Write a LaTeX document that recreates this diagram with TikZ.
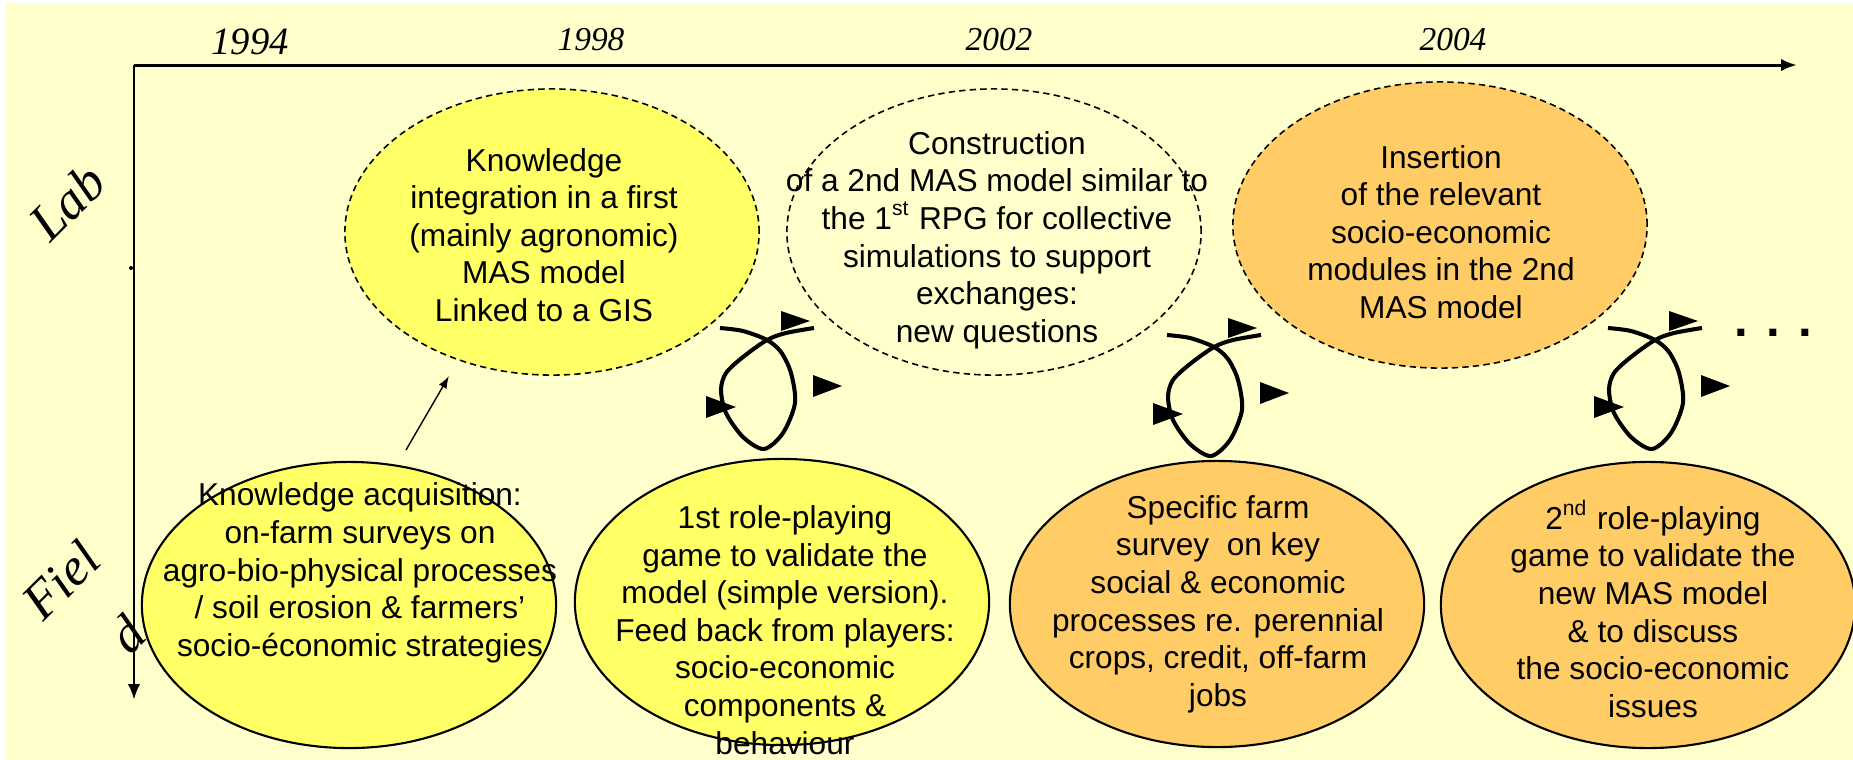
\documentclass[tikz,border=0pt]{standalone}
\usepackage{fontspec}
\setmainfont{Liberation Serif}
\setsansfont{Liberation Sans}
\usepackage{tikz}
\usetikzlibrary{shapes.geometric,arrows.meta,calc}

\definecolor{bgyellow}{RGB}{255,255,204}
\definecolor{stageyellow}{RGB}{255,255,102}
\definecolor{stageorange}{RGB}{255,204,102}

\begin{document}
\begin{tikzpicture}[x=0.01cm, y=-0.01cm,
    stage/.style={ellipse, draw, minimum width=4.14cm, minimum height=2.86cm, inner sep=0pt},
    lab/.style={stage, line width=0.45pt, dash pattern=on 1.8pt off 1.2pt},
    field/.style={stage, line width=0.6pt},
    txt/.style={align=center, inner sep=0pt, font=\sffamily\fontsize{9}{10.7}\selectfont},
    year/.style={font=\itshape\fontsize{9.5}{11}\selectfont},
    place/.style={rotate=45, inner sep=0pt, font=\itshape\fontsize{15}{18}\selectfont},
    axis/.style={line width=0.85pt, -{Latex[length=4.5pt,width=3.5pt]}},
    loopline/.style={line width=1.15pt, line join=round},
  ]
    \useasboundingbox (0,0) rectangle (1853,760);
    \fill[bgyellow] (6,3) rectangle (1853,760);

    \coordinate (o) at (134,65);
    \coordinate (tend) at (1797,65);
    \coordinate (pend) at (134,700);

    \node[year, font=\itshape\fontsize{11}{13}\selectfont] (y1) at ($(o)+(116,-23)$) {1994};
    \node[year] (y2) at ($(o)+(457,-25)$) {1998};
    \node[year] (y3) at ($(o)+(865,-25)$) {2002};
    \node[year] (y4) at ($(o)+(1319,-25)$) {2004};

    \node[place] (plab) at (67,202) {Lab};
    \node[place] (pfld) at (61,580) {Fiel};
    \node[place] (pfd) at (127,634) {d};
    \fill (131,268) circle (2);

    \node[lab, fill=stageyellow] (l1) at (552,232) {};
    \node[lab] (l2) at (994,232) {};
    \node[lab, fill=stageorange] (l3) at (1440,225) {};
    \node[field, fill=stageyellow] (f1) at (349,605) {};
    \node[field, fill=stageyellow] (f2) at (782,602) {};
    \node[field, fill=stageorange] (f3) at (1217,604) {};
    \node[field, fill=stageorange] (f4) at (1648,605) {};

    \node[txt] (l1t) at ($(l1)+(-8,3)$) {Knowledge\\integration in a first\\(mainly agronomic)\\MAS model\\Linked to a GIS};
    \node[txt] (l2t) at ($(l2)+(3,8)$) {Construction\\of a 2nd MAS model similar to\\the 1\textsuperscript{st} RPG for collective\\simulations to support\\exchanges:\\new questions};
    \node[txt] (l3t) at ($(l3)+(1,7)$) {Insertion\\of the relevant\\socio-economic\\modules in the 2nd\\MAS model};
    \node[txt] (f1t) at ($(f1)+(11,-32)$) {Knowledge acquisition:\\on-farm surveys on\\agro-bio-physical processes\\/ soil erosion \& farmers’\\socio-économic strategies};
    \node[txt] (f2t) at ($(f2)+(3,28)$) {1st role-playing\\game to validate the\\model (simple version).\\Feed back from players:\\socio-economic\\components \&\\behaviour};
    \node[txt] (f3t) at ($(f3)+(1,0)$) {Specific farm\\survey\ \ on key\\social \& economic\\processes re. perennial\\crops, credit, off-farm\\jobs};
    \node[txt] (f4t) at ($(f4)+(5,4)$) {2\textsuperscript{nd} role-playing\\game to validate the\\new MAS model\\\& to discuss\\the socio-economic\\issues};

    \foreach \cx/\cy in {767/340, 1214/347, 1655/340} {
      \begin{scope}[shift={(\cx,\cy)}]
        \draw[loopline] plot[smooth, tension=0.5] coordinates {(-47,-12) (-24,-9) (0,0) (14,12) (24,33) (28,63) (16,93) (-3,109) (-24,97) (-41,73) (-46,50) (-41,33) (-24,17) (0,0) (19,-7) (47,-12)};
        \fill (14,-29) -- (43,-19) -- (14,-9) -- cycle;
        \fill (46,35) -- (75,46) -- (46,57) -- cycle;
        \fill (-61,56) -- (-31,67) -- (-61,78) -- cycle;
      \end{scope}
    }
    \node[font=\sffamily\bfseries\fontsize{14}{16}\selectfont] (more) at (1773,333) {. . .};

    \coordinate (a1) at (406,450);
    \coordinate (a2) at (449,376);
    \draw[line width=0.4pt, -{Latex[length=3.5pt,width=2.5pt]}] (a1) -- (a2);

    \draw[axis] (o) -- (tend);
    \draw[axis] (o) -- (pend);
  \end{tikzpicture}
\end{document}
